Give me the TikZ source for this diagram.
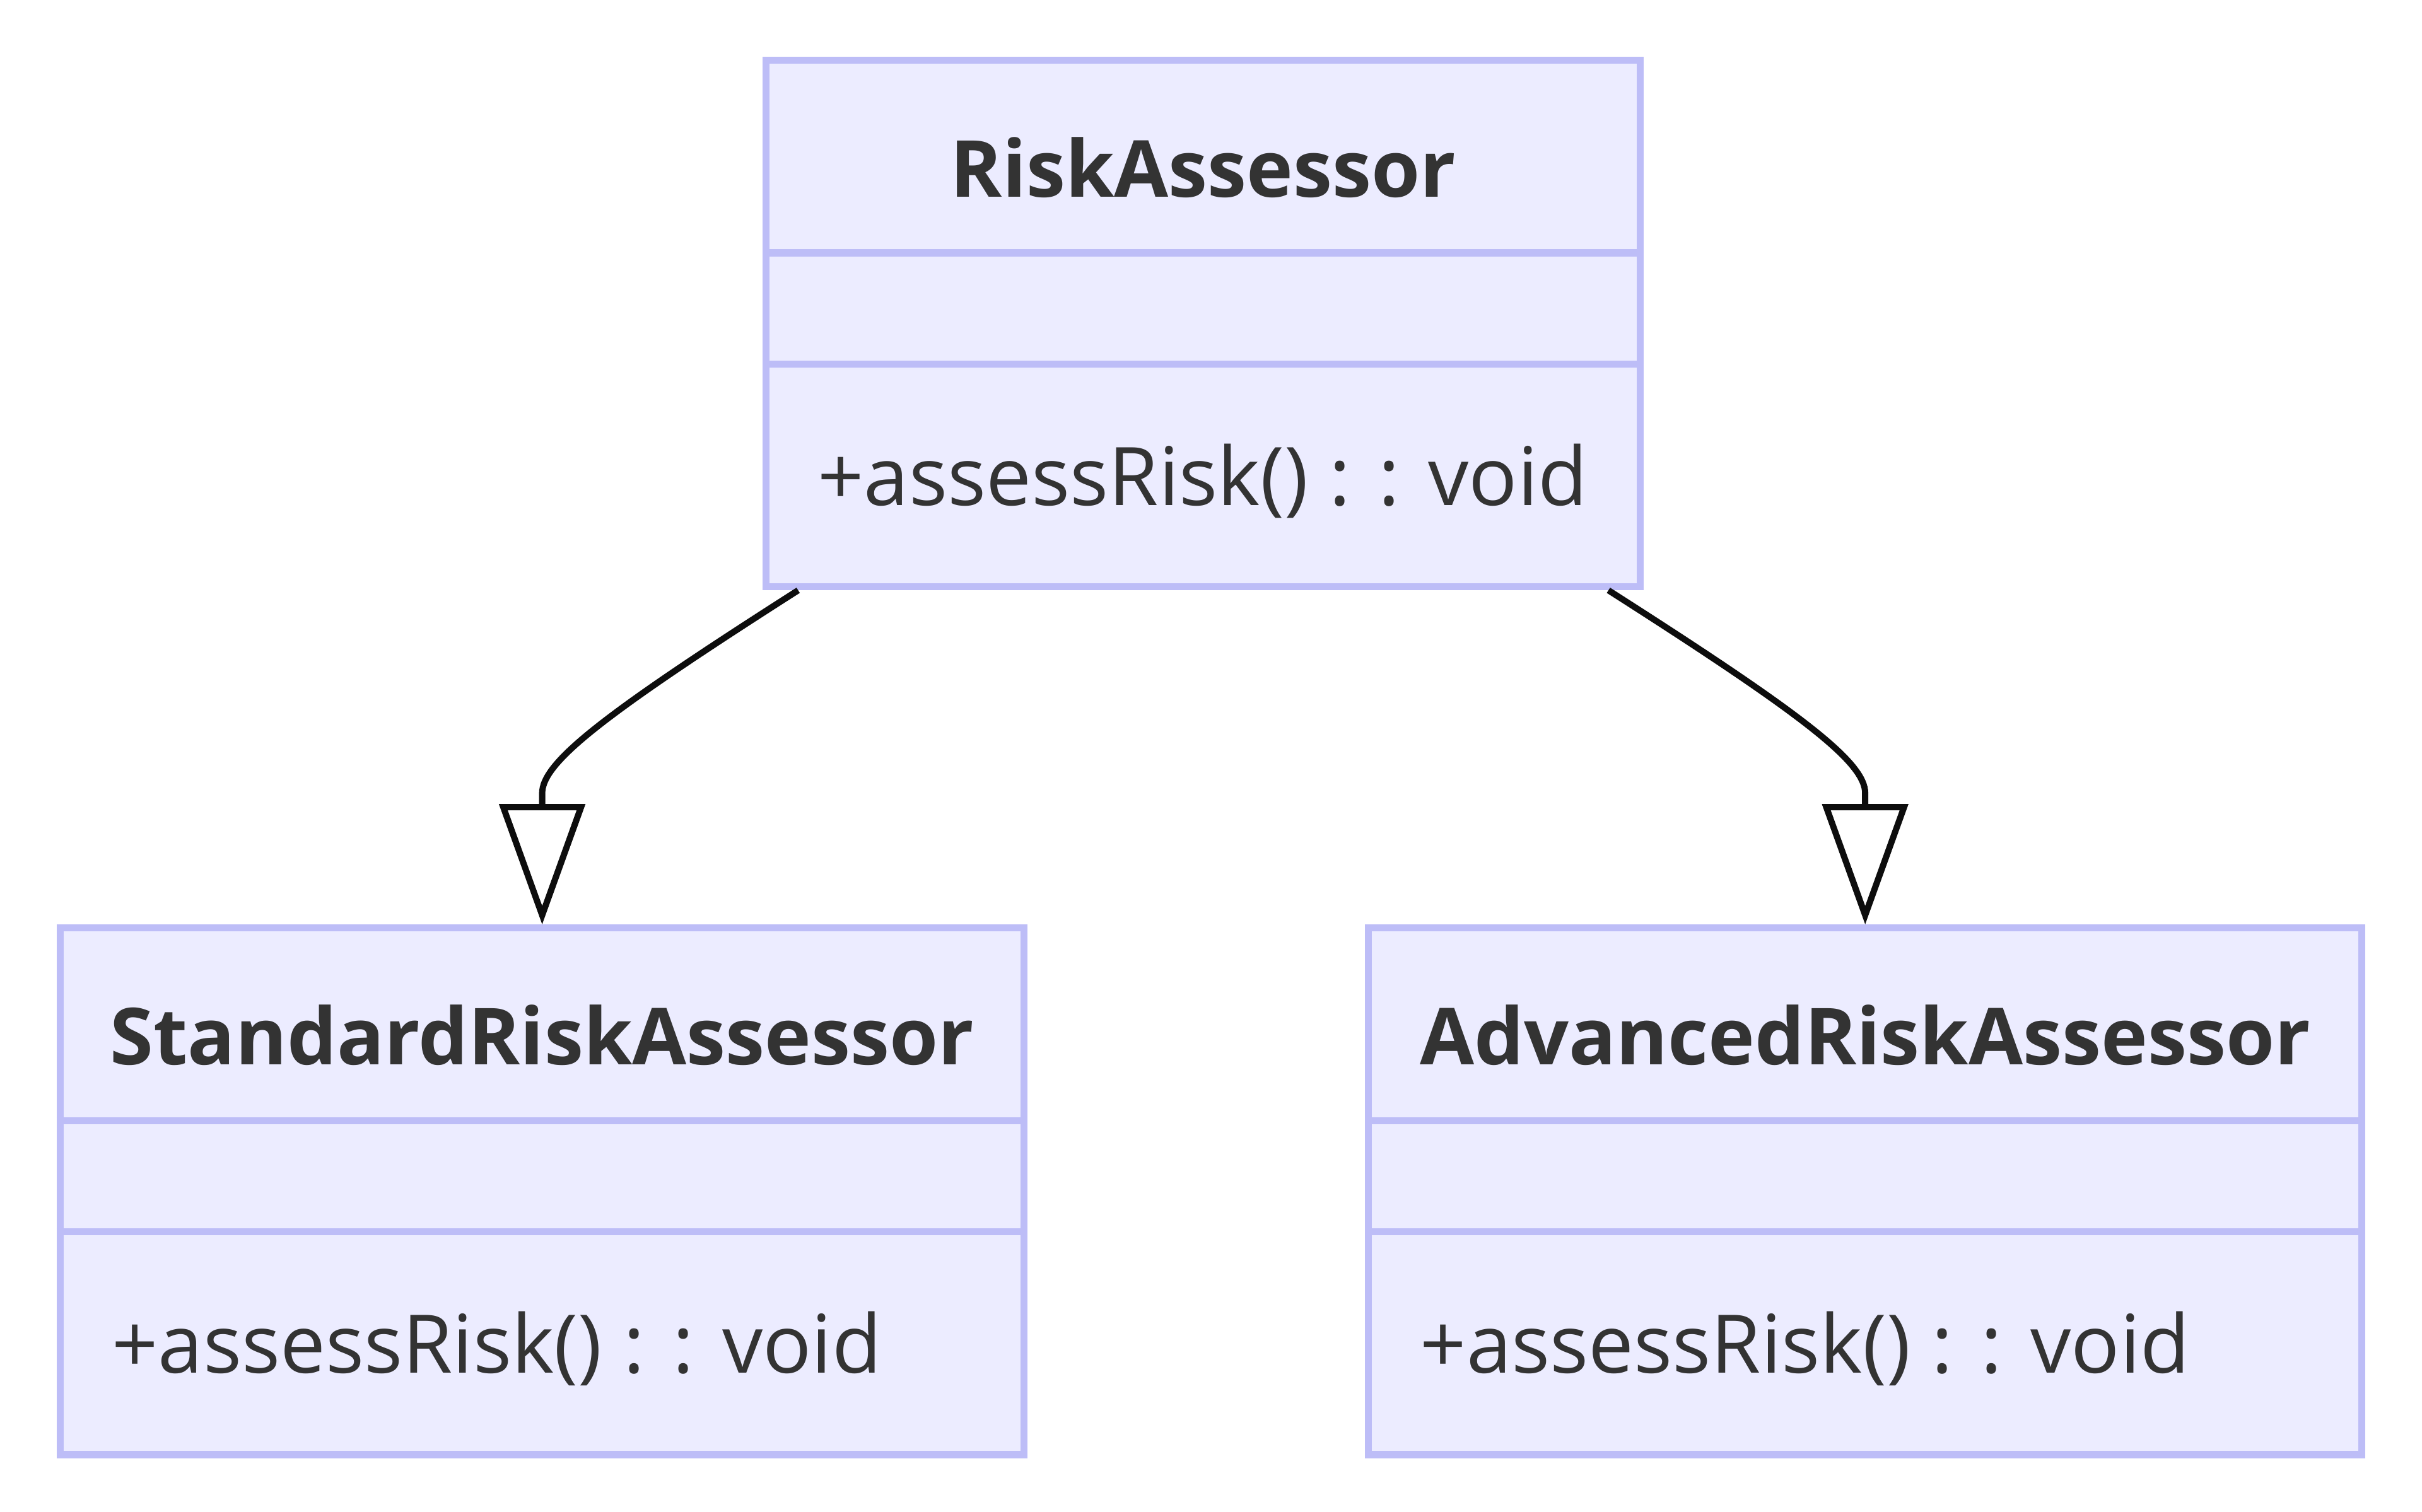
\documentclass[tikz,border=0pt]{standalone}
\usepackage{fontspec}
\setmainfont{Open Sans}
\usepackage{tikz}
\usetikzlibrary{arrows.meta,positioning,calc}
\definecolor{classfill}{HTML}{ECECFF}
\definecolor{classline}{RGB}{189,189,247}
\definecolor{classtext}{HTML}{333333}
\definecolor{edgeline}{HTML}{0D0D0D}
\tikzset{
  classbox/.style={rectangle, draw=classline, fill=classfill, line width=1.3pt,
    inner sep=0pt, minimum height=3.41cm, minimum width=#1},
  divider/.style={draw=classline, line width=1.3pt},
  title/.style={anchor=base, text=classtext, inner sep=0pt,
    font=\fontsize{14.5pt}{17pt}\selectfont\bfseries},
  method/.style={anchor=base west, text=classtext, inner sep=0pt,
    font=\fontsize{14.9pt}{18pt}\selectfont},
  inherit/.style={draw=edgeline, line width=1.15pt,
    -{Triangle[length=0.78cm, width=0.55cm, fill=white]}}
}

\begin{document}
\begin{tikzpicture}

    \useasboundingbox (0,0) rectangle (15.68,-9.79);

    % Class boxes
    \node[classbox=5.66cm] (risk) at (7.79,-2.095) {};
    \node[classbox=6.24cm] (std) at (3.51,-7.715) {};
    \node[classbox=6.43cm] (adv) at (12.075,-7.715) {};

    % Compartments and texts
    \foreach \cls/\name in {risk/RiskAssessor, std/StandardRiskAssessor, adv/AdvancedRiskAssessor} {
        \draw[divider] ($(\cls.north west)+(0,-1.27)$) -- ($(\cls.north east)+(0,-1.27)$);
        \draw[divider] ($(\cls.north west)+(0,-1.99)$) -- ($(\cls.north east)+(0,-1.99)$);
        \node[title] (\cls-title) at ($(\cls.north)+(0,-0.907)$) {\name};
        \node[method] (\cls-method) at ($(\cls.north west)+(0.35,-2.906)$) {+assessRisk() : : void};
    }

    % Inheritance arrows
    \draw[inherit] ($(risk.south west)+(0.23,0)$) .. controls +(-1.264,-0.807) and +(0,0.2) .. ($(std.north)+(0,0.85)$) -- (std.north);
    \draw[inherit] ($(risk.south east)+(-0.23,0)$) .. controls +(1.264,-0.807) and +(0,0.2) .. ($(adv.north)+(0,0.85)$) -- (adv.north);

\end{tikzpicture}
\end{document}
